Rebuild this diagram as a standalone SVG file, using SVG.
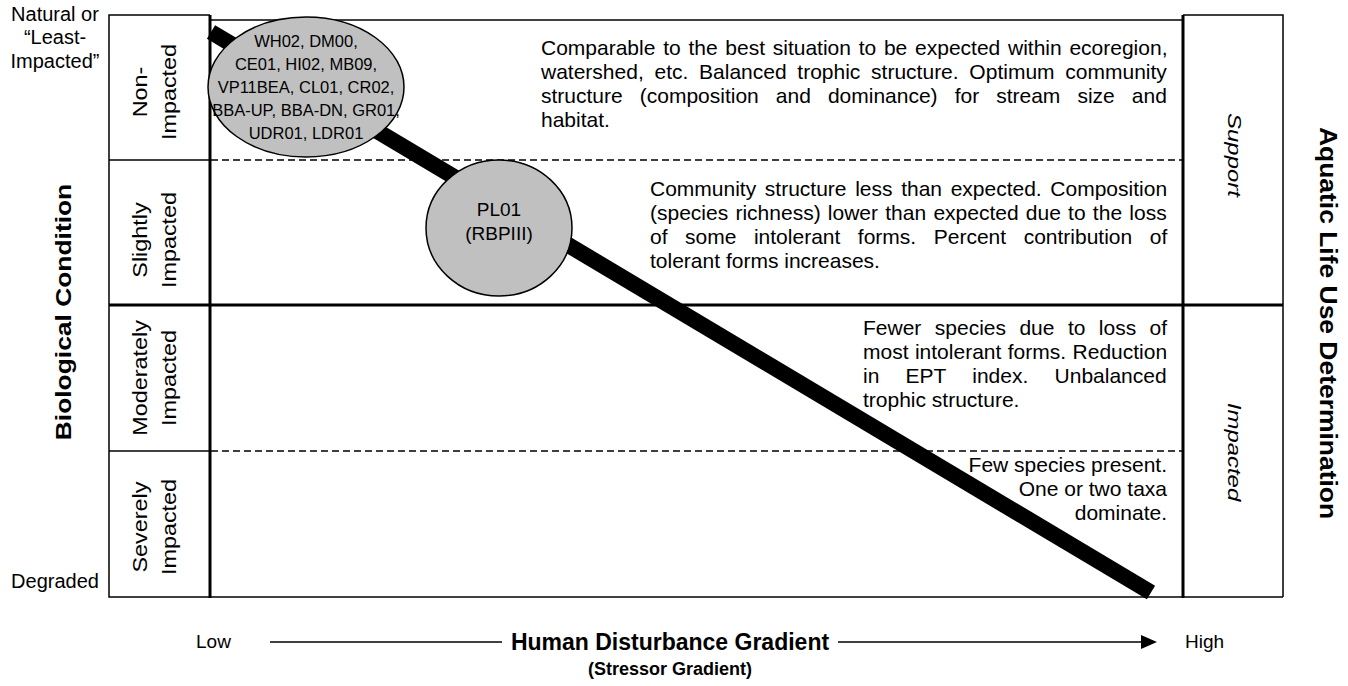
<svg xmlns="http://www.w3.org/2000/svg" width="1348" height="686" viewBox="0 0 1348 686">
<defs>
<style>
text{font-family:"Liberation Sans",Arial,Helvetica,sans-serif;fill:#000}
.p{font-size:21px}
.el{font-size:16.5px;text-anchor:middle}
.cl{font-size:19px;text-anchor:middle}
.lbl{font-size:19.5px;text-anchor:middle}
.side{font-size:20px;text-anchor:middle}
.b{font-weight:bold}
.it{font-style:italic}
.ln{stroke:#000;fill:none;stroke-width:1.5}
.thick{stroke:#000;fill:none;stroke-width:3}
.dash{stroke:#000;stroke-width:1.3;stroke-dasharray:7 4;fill:none}
.node{fill:#c0c0c0;stroke:#000;stroke-width:1.5}
</style>
<marker id="arr" markerUnits="userSpaceOnUse" markerWidth="16" markerHeight="14" viewBox="0 0 16 14" refX="0" refY="7" orient="auto">
<path d="M0,0 L16,7 L0,14 z" fill="#000"/>
</marker>
</defs>
<rect width="1348" height="686" fill="#fff"/>

<g id="frame">
<polyline class="ln" points="210,15 109,15 109,597 210,597"/>
<line class="ln" x1="109" y1="160" x2="210" y2="160"/>
<line class="ln" x1="109" y1="451" x2="210" y2="451"/>
<line class="ln" x1="210" y1="20" x2="1183" y2="20"/>
<line class="ln" x1="210" y1="597" x2="1283" y2="597"/>
<line class="dash" x1="211" y1="160" x2="1182" y2="160"/>
<line class="dash" x1="211" y1="451" x2="1182" y2="451"/>
<line class="thick" x1="109" y1="305" x2="1283" y2="305"/>
<line class="thick" x1="210" y1="15" x2="210" y2="598"/>
<line class="thick" x1="1183" y1="15" x2="1183" y2="598"/>
<polyline class="ln" points="1183,15 1283,15 1283,597"/>
</g>

<g id="gradient-bar">
<line x1="211" y1="32" x2="1151" y2="592.5" stroke="#000" stroke-width="16"/>
</g>

<g id="row-labels">
<text class="lbl" transform="translate(147,92) rotate(-90) scale(1.2,1)">Non-</text>
<text class="lbl" transform="translate(176,92) rotate(-90) scale(1.2,1)">Impacted</text>
<text class="lbl" transform="translate(147,240) rotate(-90) scale(1.2,1)">Slightly</text>
<text class="lbl" transform="translate(176,240) rotate(-90) scale(1.2,1)">Impacted</text>
<text class="lbl" transform="translate(147,378) rotate(-90) scale(1.2,1)">Moderately</text>
<text class="lbl" transform="translate(176,378) rotate(-90) scale(1.2,1)">Impacted</text>
<text class="lbl" transform="translate(147,527) rotate(-90) scale(1.2,1)">Severely</text>
<text class="lbl" transform="translate(176,527) rotate(-90) scale(1.2,1)">Impacted</text>
</g>

<g id="axis-left">
<text class="side" x="55" y="20.5">Natural or</text>
<text class="side" x="55" y="44">“Least-</text>
<text class="side" x="55" y="67.5">Impacted”</text>
<text class="side" x="55" y="588">Degraded</text>
<text class="b" font-size="22" text-anchor="middle" transform="translate(71,312) rotate(-90) scale(1.2,1)">Biological Condition</text>
</g>

<g id="axis-right">
<text class="it" font-size="18" text-anchor="middle" transform="translate(1228,155) rotate(90) scale(1.33,1)">Support</text>
<text class="it" font-size="18" text-anchor="middle" transform="translate(1228,452) rotate(90) scale(1.33,1)">Impacted</text>
<text class="b" font-size="23" text-anchor="middle" transform="translate(1320,323) rotate(90) scale(1.15,1)">Aquatic Life Use Determination</text>
</g>

<g id="node-sites">
<ellipse class="node" cx="306" cy="87" rx="98" ry="70"/>
<text class="el" x="306" y="46.5">WH02, DM00,</text>
<text class="el" x="306" y="69.5">CE01, HI02, MB09,</text>
<text class="el" x="306" y="92.5">VP11BEA, CL01, CR02,</text>
<text class="el" x="306" y="115.5">BBA-UP, BBA-DN, GR01,</text>
<text class="el" x="306" y="138.5">UDR01, LDR01</text>
</g>

<g id="node-pl01">
<ellipse class="node" cx="499" cy="228" rx="73" ry="68"/>
<text class="cl" x="499" y="216">PL01</text>
<text class="cl" x="499" y="240">(RBPIII)</text>
</g>

<g id="desc-non">
<text class="p" x="541" y="55" style="word-spacing:1.9px">Comparable to the best situation to be expected within ecoregion,</text>
<text class="p" x="541" y="79" style="word-spacing:4.9px">watershed, etc. Balanced trophic structure. Optimum community</text>
<text class="p" x="541" y="103" style="word-spacing:11.2px">structure (composition and dominance) for stream size and</text>
<text class="p" x="541" y="127">habitat.</text>
</g>

<g id="desc-slight">
<text class="p" x="650" y="196" style="word-spacing:2.8px">Community structure less than expected. Composition</text>
<text class="p" x="650" y="220" style="word-spacing:1.4px">(species richness) lower than expected due to the loss</text>
<text class="p" x="650" y="244" style="word-spacing:11.7px">of some intolerant forms. Percent contribution of</text>
<text class="p" x="650" y="268">tolerant forms increases.</text>
</g>

<g id="desc-moderate">
<text class="p" x="863" y="335" style="word-spacing:7.6px">Fewer species due to loss of</text>
<text class="p" x="863" y="359" style="word-spacing:0.6px">most intolerant forms. Reduction</text>
<text class="p" x="863" y="383" style="word-spacing:20.4px">in EPT index. Unbalanced</text>
<text class="p" x="863" y="407">trophic structure.</text>
</g>

<g id="desc-severe">
<text class="p" x="1167" y="472" text-anchor="end">Few species present.</text>
<text class="p" x="1167" y="496" text-anchor="end">One or two taxa</text>
<text class="p" x="1167" y="520" text-anchor="end">dominate.</text>
</g>

<g id="connectors">
<line class="ln" x1="270" y1="642" x2="502" y2="642"/>
<line class="ln" x1="838" y1="642" x2="1141" y2="642" marker-end="url(#arr)"/>
</g>

<g id="axis-bottom">
<text font-size="19" x="196" y="648">Low</text>
<text font-size="19" x="1185" y="648">High</text>
<text class="b" font-size="23" x="670" y="650" text-anchor="middle">Human Disturbance Gradient</text>
<text class="b" font-size="18" x="670" y="675" text-anchor="middle">(Stressor Gradient)</text>
</g>
</svg>
